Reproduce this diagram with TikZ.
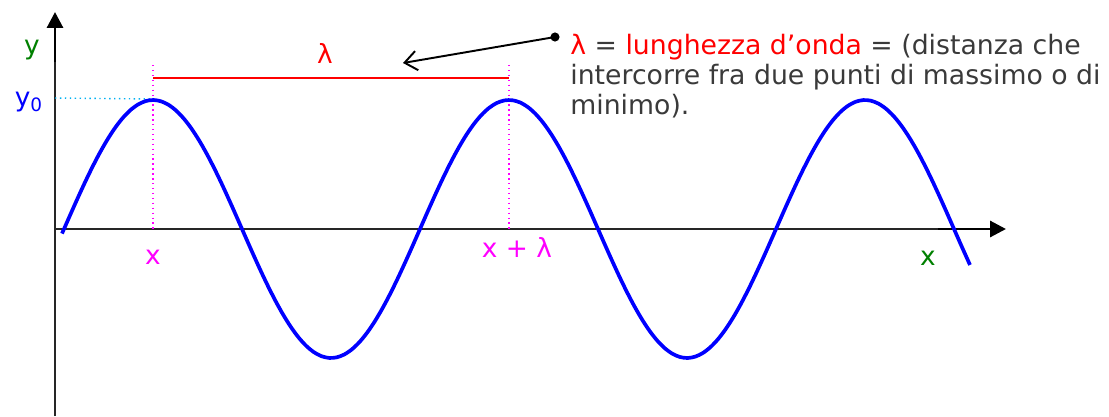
\documentclass[tikz,border=0pt]{standalone}
\usepackage{fontspec}
\setmainfont{DejaVu Sans}
\usetikzlibrary{arrows.meta}
\definecolor{txtgray}{HTML}{3A3A3A}
\definecolor{wblue}{HTML}{0000FF}
\definecolor{wgreen}{HTML}{008000}
\definecolor{wmag}{HTML}{FF00FF}
\definecolor{wcyan}{HTML}{00B0F0}
\tikzset{
  axis/.style={line width=0.8pt, black!85},
  axishead/.style={line width=1.7pt, -{Triangle[length=9pt,width=9pt]}},
  wave/.style={line width=2.1pt, wblue},
  guide/.style={wmag, line width=0.8pt, dotted},
  lbl/.style={font=\fontsize{15}{18}\selectfont, inner sep=0pt},
  txt/.style={font=\fontsize{15.2}{18}\selectfont, inner sep=0pt, anchor=base west, txtgray},
}
\begin{document}
\begin{tikzpicture}[x=0.02cm,y=-0.02cm]
\useasboundingbox (0,0) rectangle (1109,416);
% axes
\coordinate (O) at (55,229);
\coordinate (ybot) at (55,416);
\coordinate (ytop) at (55,12);
\coordinate (ythick) at (55,62);
\coordinate (xend) at (1006,229);
\coordinate (xthick) at (938,229);
\draw[axis] (ybot) -- (ythick);
\draw[axis] (O) -- (xthick);
\draw[axishead] (ythick) -- (ytop);
\draw[axishead] (xthick) -- (xend);
% guides
\coordinate (p1) at (153,99);
\coordinate (p2) at (509,99);
\coordinate (p1top) at (153,65);
\coordinate (p2top) at (509,65);
\coordinate (p1bot) at (153,229);
\coordinate (p2bot) at (509,229);
\coordinate (y0pt) at (55,98);
\draw[guide] (p1top) -- (p1bot);
\draw[guide] (p2top) -- (p2bot);
\draw[wcyan, line width=0.8pt, dotted] (y0pt) -- (p1);
% lambda bar
\coordinate (l1) at (153,78);
\coordinate (l2) at (509,78);
\draw[red, line width=1pt] (l1) -- (l2);
\node[lbl, red] (lam) at (325,53) {λ};
% wave
\draw[wave, line join=round] plot[domain=62:970, samples=120, smooth] (\x, {229-129*sin((\x-64)/356*360)});
% axis labels
\node[lbl, wgreen] (ylab) at (32,50) {y};
\node[lbl, wblue] (y0lab) at (29,102) {y\textsubscript{0}};
\node[lbl, wmag] (xlab) at (153,257) {x};
\node[lbl, wmag] (xlamlab) at (517,247) {x + λ};
\node[lbl, wgreen] (xaxlab) at (928,258) {x};
% annotation
\coordinate (dot) at (555,37);
\coordinate (arrtip) at (403,63);
\fill (dot) circle (2.6pt);
\draw[line width=1.1pt, -{Straight Barb[length=7pt,width=11pt]}] (dot) -- (arrtip);
\node[txt] (t1) at (570,54) {\textcolor{red}{λ} = \textcolor{red}{lunghezza d’onda} = (distanza che};
\node[txt] (t2) at (570,84) {intercorre fra due punti di massimo o di};
\node[txt] (t3) at (570,114) {minimo).};
\end{tikzpicture}
\end{document}
